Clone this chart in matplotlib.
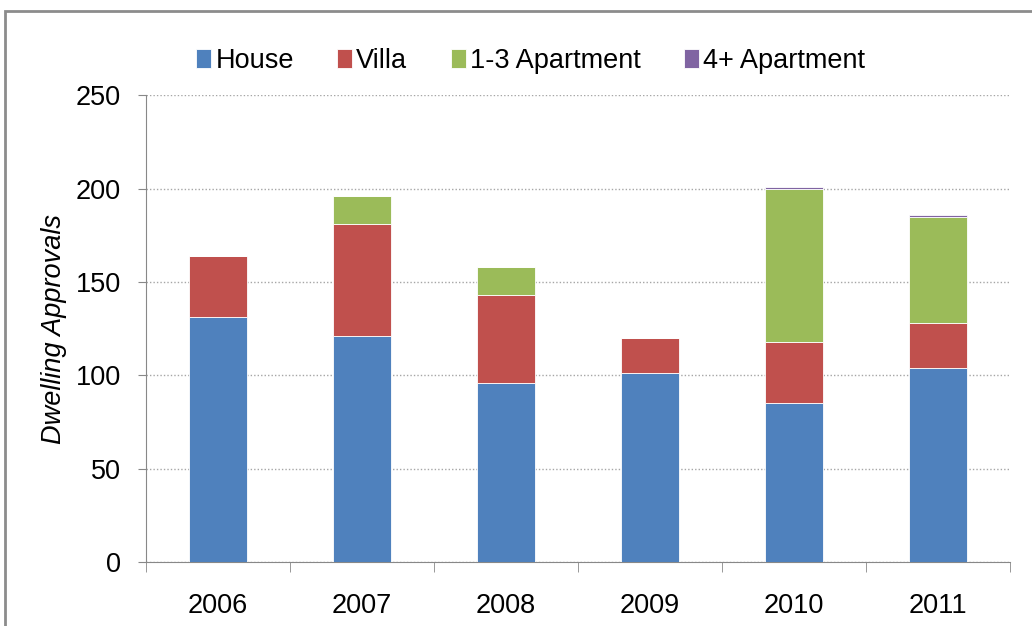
import matplotlib.pyplot as plt
import numpy as np
from matplotlib.patches import Rectangle

plt.rcParams['font.family'] = ['Liberation Sans', 'DejaVu Sans']

years = ['2006', '2007', '2008', '2009', '2010', '2011']
house = [131, 121, 96, 101, 85, 104]
villa = [33, 60, 47, 19, 33, 24]
apt_1_3 = [0, 15, 15, 0, 82, 57]
apt_4 = [0, 0, 0, 0, 1, 1]

series = [('House', house, '#4F81BD'),
          ('Villa', villa, '#C0504D'),
          ('1-3 Apartment', apt_1_3, '#9BBB59'),
          ('4+ Apartment', apt_4, '#8064A2')]

fig = plt.figure(figsize=(10.32, 6.26), dpi=100)
ax = fig.add_axes([0.1415, 0.1022, 0.8372, 0.7458])

x = np.arange(len(years))
bottom = np.zeros(len(years))
for name, vals, col in series:
    vals = np.array(vals, dtype=float)
    ax.bar(x, vals, 0.4, bottom=bottom, color=col, label=name,
           edgecolor='white', linewidth=0.6, zorder=3)
    bottom += vals

ax.set_xlim(-0.5, len(years) - 0.5)
ax.set_ylim(0, 250)
ax.set_yticks(range(0, 251, 50))
ax.set_xticks(x)
ax.set_xticklabels(years)
ax.set_xticks(np.arange(-0.5, len(years)), minor=True)
ax.tick_params(axis='x', which='major', length=0, pad=22, labelsize=19.5)
ax.tick_params(axis='x', which='minor', length=7, color='#888888', direction='out')
ax.tick_params(axis='y', length=6, color='#888888', labelsize=19.5, pad=12)

ax.grid(axis='y', linestyle=(0, (1, 1.5)), color='#A6A6A6', linewidth=1, zorder=0)
for s in ['top', 'right']:
    ax.spines[s].set_visible(False)
ax.spines['left'].set_color('#888888')
ax.spines['bottom'].set_color('#888888')

ax.set_ylabel('Dwelling Approvals', fontsize=19.5, style='italic', labelpad=6)

ax.legend(loc='center', bbox_to_anchor=(0.445, 1.073), ncol=4, frameon=False,
          fontsize=19.5, handlelength=0.55, handleheight=0.7, handletextpad=0.15,
          columnspacing=1.6)

# outer chart border
fig.patches.append(Rectangle((0.005, -0.05), 1.1, 1.032, transform=fig.transFigure,
                             fill=False, edgecolor='#8C8C8C', linewidth=2))

fig.savefig('out.png', dpi=100)
